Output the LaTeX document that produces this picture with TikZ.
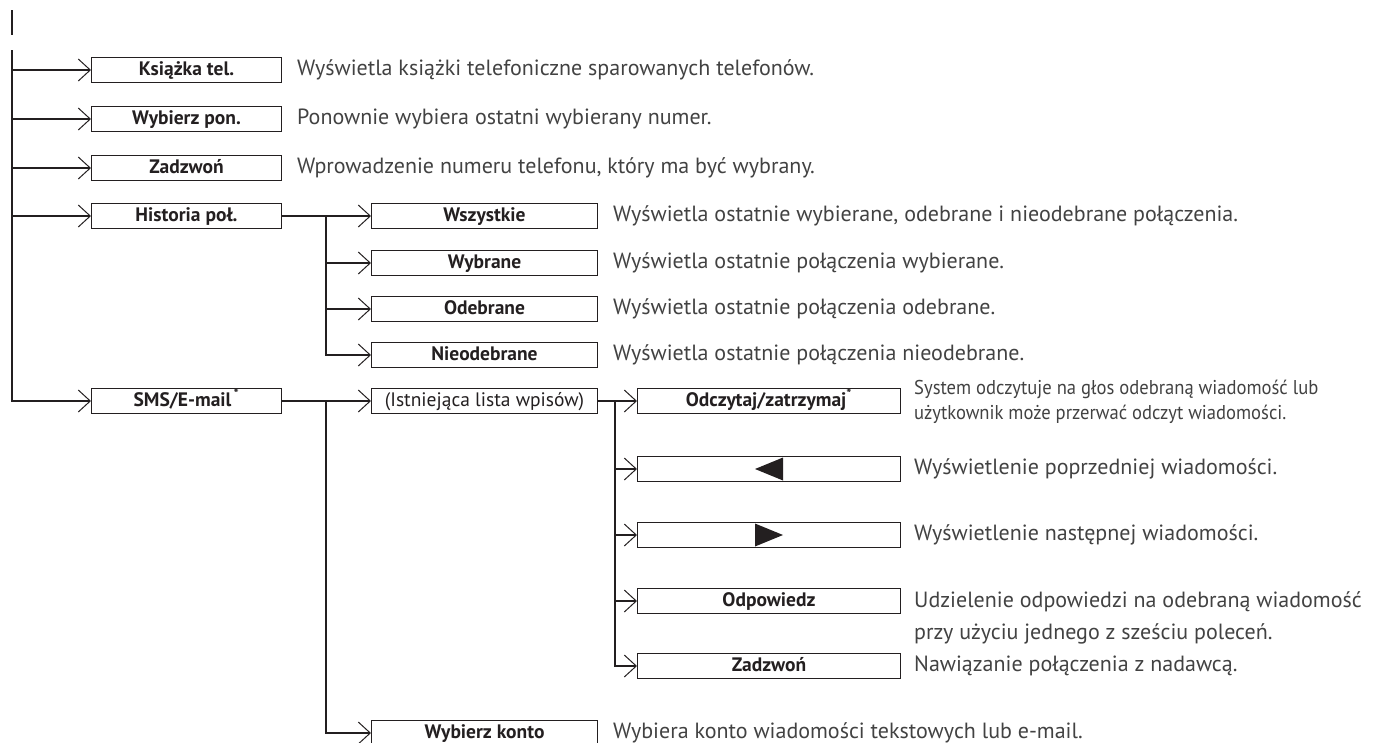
\documentclass[tikz,border=0pt]{standalone}
\usepackage{fontspec}
\setmainfont{PT Sans}
\newfontfamily\narrowfont[FakeStretch=0.93]{PT Sans}
\usetikzlibrary{arrows.meta}
\definecolor{ink}{HTML}{231F20}
\definecolor{desctext}{HTML}{424242}
\tikzset{
  x=1pt, y=-1pt,
  menubox/.style={draw=ink, line width=1pt, minimum height=25pt, inner sep=0pt,
    anchor=west, text=ink, font=\fontsize{19.5}{20}\selectfont\bfseries,
    text height=13pt, text depth=3pt},
  col1/.style={menubox, minimum width=190pt},
  col2/.style={menubox, minimum width=226pt},
  col3/.style={menubox, minimum width=263pt},
  desc/.style={anchor=west, inner sep=0pt, text=desctext,
    font=\fontsize{22}{24}\selectfont, text height=15pt, text depth=4pt},
  narrowdesc/.style={desc, font=\narrowfont\fontsize{20}{22}\selectfont},
  conn/.style={draw=ink, line width=2pt},
  arr/.style={conn, -{Straight Barb[length=12pt, width=22pt, line width=1pt]}},
  tri/.style={fill=ink, draw=none}
}
\begin{document}
\begin{tikzpicture}
\useasboundingbox (0,0) rectangle (1384,742);

% column 1 boxes
\node[col1] (ks) at (91,70) {Książka tel.};
\node[col1] (wp) at (91,119) {Wybierz pon.};
\node[col1] (za) at (91,168) {Zadzwoń};
\node[col1] (hi) at (91,216) {Historia poł.};
\node[col1] (sm) at (91,401) {SMS/E-mail\textsuperscript{\,*}};

% column 2 boxes
\node[col2] (ws) at (371,216) {Wszystkie};
\node[col2] (wy) at (371,263) {Wybrane};
\node[col2] (od) at (371,309) {Odebrane};
\node[col2] (ni) at (371,355) {Nieodebrane};
\node[col2, font=\fontsize{19.5}{20}\selectfont] (is) at (371,401) {(Istniejąca lista wpisów)};
\node[col2] (wk) at (371,733) {Wybierz konto};

% column 3 boxes
\node[col3] (oc) at (637,401) {Odczytaj/zatrzymaj\textsuperscript{*}};
\node[col3] (pr) at (637,469) {};
\node[col3] (nx) at (637,535) {};
\node[col3] (op) at (637,601) {Odpowiedz};
\node[col3] (z2) at (637,666) {Zadzwoń};

% triangles
\fill[tri] ([xshift=-14pt]pr.center) -- ([xshift=14pt,yshift=11.5pt]pr.center) -- ([xshift=14pt,yshift=-11.5pt]pr.center) -- cycle;
\fill[tri] ([xshift=14pt]nx.center) -- ([xshift=-14pt,yshift=11.5pt]nx.center) -- ([xshift=-14pt,yshift=-11.5pt]nx.center) -- cycle;

% trunk coordinates
\coordinate (t0) at (12,10);
\coordinate (t1) at (12,35);
\coordinate (m0) at (12,50);
\coordinate (m1) at (12,70);
\coordinate (m2) at (12,119);
\coordinate (m3) at (12,168);
\coordinate (m4) at (12,216);
\coordinate (m5) at (12,401);
\draw[conn] (t0) -- (t1);
\draw[conn] (m0) -- (m5);
\draw[arr] (m1) -- (ks.west);
\draw[arr] (m2) -- (wp.west);
\draw[arr] (m3) -- (za.west);
\draw[arr] (m4) -- (hi.west);
\draw[arr] (m0) |- (sm.west);

% historia branch
\coordinate (h1) at (326,216);
\draw[arr] (hi.east) -- (ws.west);
\draw[arr] (h1) |- (ni.west);
\draw[arr] (h1 |- wy.west) -- (wy.west);
\draw[arr] (h1 |- od.west) -- (od.west);

% sms branch
\coordinate (s1) at (326,401);
\draw[arr] (sm.east) -- (is.west);
\draw[arr] (s1) |- (wk.west);

% list branch
\coordinate (l1) at (615,401);
\draw[arr] (is.east) -- (oc.west);
\draw[arr] (l1) |- (z2.west);
\draw[arr] (l1 |- pr.west) -- (pr.west);
\draw[arr] (l1 |- nx.west) -- (nx.west);
\draw[arr] (l1 |- op.west) -- (op.west);

% descriptions
\node[desc] (dks) at (297,70) {Wyświetla książki telefoniczne sparowanych telefonów.};
\node[desc] (dwp) at (297,119) {Ponownie wybiera ostatni wybierany numer.};
\node[desc] (dza) at (297,168) {Wprowadzenie numeru telefonu, który ma być wybrany.};
\node[desc] (dws) at (613,216) {Wyświetla ostatnie wybierane, odebrane i nieodebrane połączenia.};
\node[desc] (dwy) at (613,263) {Wyświetla ostatnie połączenia wybierane.};
\node[desc] (dod) at (613,309) {Wyświetla ostatnie połączenia odebrane.};
\node[desc] (dni) at (613,355) {Wyświetla ostatnie połączenia nieodebrane.};
\node[narrowdesc] (doc1) at (914,389) {System odczytuje na głos odebraną wiadomość lub};
\node[narrowdesc] (doc2) at (914,414) {użytkownik może przerwać odczyt wiadomości.};
\node[desc] (dpr) at (914,469) {Wyświetlenie poprzedniej wiadomości.};
\node[desc] (dnx) at (914,535) {Wyświetlenie następnej wiadomości.};
\node[desc] (dop1) at (914,602) {Udzielenie odpowiedzi na odebraną wiadomość};
\node[desc] (dop2) at (914,634) {przy użyciu jednego z sześciu poleceń.};
\node[desc] (dz2) at (914,666) {Nawiązanie połączenia z nadawcą.};
\node[desc] (dwk) at (613,733) {Wybiera konto wiadomości tekstowych lub e-mail.};
\end{tikzpicture}
\end{document}
